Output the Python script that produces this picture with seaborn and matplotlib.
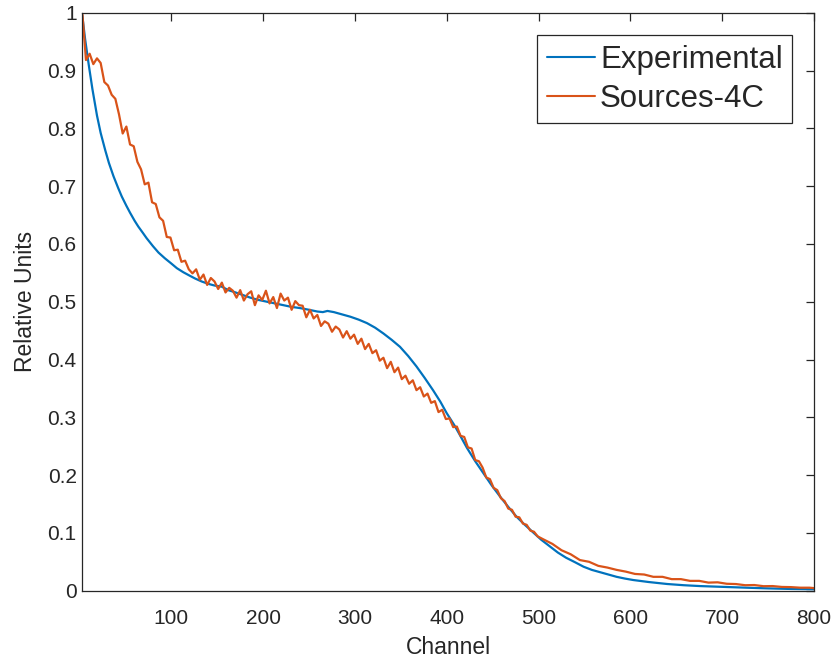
import numpy as np
import pandas as pd
import matplotlib
matplotlib.use("Agg")
import matplotlib.pyplot as plt
import seaborn as sns

# ---------------- data ----------------
exp_channel = [3, 6, 10, 14, 19, 23, 28, 32, 37, 42, 46, 51, 55, 60, 64, 69, 73,
               80, 86, 93, 100, 106, 113, 120, 126, 133, 140, 147, 155, 162, 170,
               177, 186, 195, 204, 213, 222, 231, 240, 250, 259, 265, 270, 277,
               286, 295, 304, 313, 322, 331, 340, 349, 358, 367, 376, 385, 393,
               400, 408, 413, 422, 431, 440, 449, 458, 467, 476, 485, 494, 503,
               512, 521, 530, 540, 549, 558, 567, 576, 585, 594, 603, 620, 640,
               658, 676, 694, 712, 730, 750, 775, 800]
exp_values = [0.995, 0.955, 0.910, 0.868, 0.822, 0.792, 0.762, 0.740, 0.717,
              0.697, 0.682, 0.666, 0.654, 0.640, 0.630, 0.619, 0.610, 0.596,
              0.585, 0.575, 0.566, 0.558, 0.551, 0.545, 0.540, 0.535, 0.531,
              0.528, 0.526, 0.520, 0.516, 0.512, 0.507, 0.503, 0.500, 0.497,
              0.494, 0.491, 0.489, 0.486, 0.483, 0.482, 0.484, 0.482, 0.478,
              0.474, 0.469, 0.463, 0.455, 0.445, 0.434, 0.422, 0.406, 0.388,
              0.368, 0.347, 0.327, 0.307, 0.287, 0.273, 0.247, 0.224, 0.203,
              0.182, 0.163, 0.145, 0.128, 0.114, 0.101, 0.088, 0.077, 0.066,
              0.057, 0.049, 0.0415, 0.036, 0.032, 0.028, 0.024, 0.021, 0.0185,
              0.015, 0.0116, 0.0095, 0.008, 0.007, 0.006, 0.005, 0.004, 0.003,
              0.0025]

src_channel = list(range(3, 500, 4)) + list(range(505, 800, 10)) + [800]
src_values = [
    1.000, 0.918, 0.929, 0.911, 0.921, 0.913, 0.880, 0.874, 0.858, 0.851,
    0.824, 0.791, 0.803, 0.772, 0.769, 0.742, 0.729, 0.703, 0.706, 0.672,
    0.669, 0.646, 0.640, 0.612, 0.611, 0.589, 0.590, 0.569, 0.571, 0.556,
    0.549, 0.556, 0.538, 0.547, 0.529, 0.541, 0.535, 0.522, 0.533, 0.516,
    0.524, 0.519, 0.507, 0.520, 0.502, 0.513, 0.518, 0.494, 0.511, 0.503,
    0.519, 0.497, 0.508, 0.489, 0.514, 0.502, 0.507, 0.486, 0.501, 0.494,
    0.493, 0.473, 0.486, 0.471, 0.477, 0.458, 0.466, 0.462, 0.448, 0.457,
    0.452, 0.438, 0.449, 0.436, 0.443, 0.427, 0.436, 0.418, 0.427, 0.411,
    0.416, 0.398, 0.403, 0.385, 0.396, 0.378, 0.386, 0.366, 0.372, 0.358,
    0.364, 0.347, 0.352, 0.336, 0.341, 0.325, 0.328, 0.309, 0.313, 0.297,
    0.298, 0.283, 0.284, 0.268, 0.266, 0.248, 0.246, 0.226, 0.224, 0.213,
    0.196, 0.193, 0.178, 0.174, 0.160, 0.155, 0.142, 0.140, 0.128, 0.127,
    0.116, 0.114, 0.104, 0.102, 0.094,
    0.089, 0.081, 0.070, 0.063, 0.053, 0.050, 0.043, 0.040, 0.036, 0.033,
    0.029, 0.028, 0.024, 0.024, 0.020, 0.020, 0.017, 0.017, 0.014, 0.0145,
    0.012, 0.0115, 0.0095, 0.0098, 0.0078, 0.0080, 0.0065, 0.0062, 0.0052,
    0.0052, 0.0045]

series_names = ["Experimental", "Sources-4C"]
x_ticks = [100, 200, 300, 400, 500, 600, 700, 800]
y_ticks = [0, 0.1, 0.2, 0.3, 0.4, 0.5, 0.6, 0.7, 0.8, 0.9, 1]
y_tick_labels = ["0", "0.1", "0.2", "0.3", "0.4", "0.5", "0.6", "0.7", "0.8", "0.9", "1"]

df = pd.concat([
    pd.DataFrame({"Channel": exp_channel, "Value": exp_values, "Series": series_names[0]}),
    pd.DataFrame({"Channel": src_channel, "Value": src_values, "Series": series_names[1]}),
], ignore_index=True)

# ---------------- style ----------------
sns.set_style("white")
plt.rcParams["font.family"] = ["Liberation Sans", "DejaVu Sans"]
axis_color = "#262626"

fig = plt.figure(figsize=(8.36, 6.64), dpi=100)
ax = fig.add_axes([82.3 / 836, 1 - 590.7 / 664, (814 - 82.3) / 836, (590.7 - 12.7) / 664])

sns.lineplot(data=df, x="Channel", y="Value", hue="Series",
             palette={"Experimental": "#0072BD", "Sources-4C": "#D95319"},
             estimator=None, sort=False, linewidth=1.6, ax=ax)

ax.set_xlim(3, 800)
ax.set_ylim(0, 1)
ax.set_xticks(x_ticks)
ax.set_yticks(y_ticks)
ax.set_yticklabels(y_tick_labels)

for s in ax.spines.values():
    s.set_visible(True)
    s.set_color(axis_color)
    s.set_linewidth(0.9)

ax.tick_params(axis="both", direction="in", length=6, width=0.9, color=axis_color,
               labelcolor=axis_color, labelsize=15, top=True, right=True)
ax.tick_params(axis="x", pad=13)
ax.tick_params(axis="y", pad=4)

ax.set_xlabel("Channel", fontsize=16.5, color=axis_color, labelpad=6)
ax.set_ylabel("Relative Units", fontsize=16.5, color=axis_color, labelpad=8)

leg = ax.legend(loc="upper right", bbox_to_anchor=(0.970, 0.961), fontsize=22.5,
                frameon=True, fancybox=False, framealpha=1, edgecolor="#262626",
                handlelength=1.55, handletextpad=0.15, borderpad=0.3,
                labelspacing=0.3, borderaxespad=0)
leg.get_frame().set_linewidth(0.9)
for line in leg.get_lines():
    line.set_linewidth(1.5)

fig.savefig("out.png", dpi=100)
